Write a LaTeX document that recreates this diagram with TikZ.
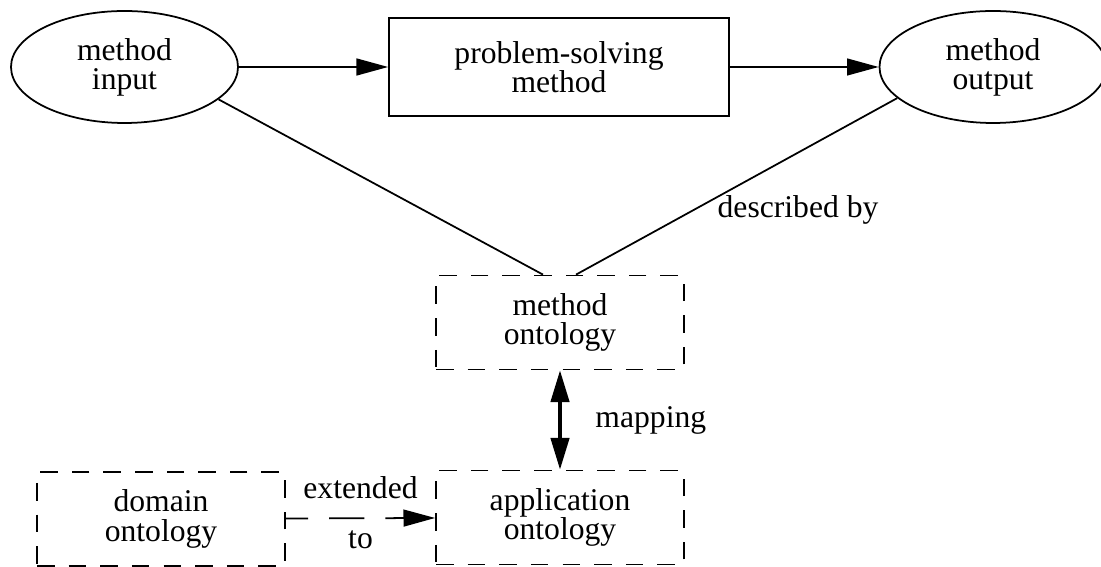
\documentclass[tikz,border=0pt]{standalone}
\usepackage{fontspec}
\setmainfont{Liberation Serif}
\usetikzlibrary{shapes.geometric,arrows.meta}

\begin{document}
\begin{tikzpicture}[
        every node/.style={font=\fontsize{9}{8.3}\selectfont, align=center},
        io/.style={ellipse, draw, line width=0.5pt, inner sep=0pt, minimum width=2.27cm, minimum height=1.12cm},
        psm/.style={rectangle, draw, line width=0.5pt, minimum width=3.4cm, minimum height=0.98cm},
        onto/.style={rectangle, draw, line width=0.5pt, dash pattern=on 5pt off 4pt, minimum width=2.48cm, minimum height=0.94cm},
        flow/.style={line width=0.5pt, -{Triangle[length=9pt, width=4.8pt]}},
        link/.style={line width=0.5pt}
    ]
        \useasboundingbox (0,0) rectangle (11.01,5.66);

        % Method and its input / output
        \node[io] (input) at (1.245,4.99) {method\\input};
        \node[psm] (method) at (5.59,4.99) {problem-solving\\method};
        \node[io] (output) at (9.93,4.99) {method\\output};
        \draw[flow] (input) -- (method);
        \draw[flow] (method) -- (output);

        % Ontologies
        \node[onto] (montology) at (5.60,2.435) {method\\ontology};
        \node[onto] (aontology) at (5.60,0.485) {application\\ontology};
        \node[onto] (dontology) at (1.61,0.47) {domain\\ontology};

        % Relations
        \draw[link] (input.-19) -- ([xshift=-0.17cm]montology.north);
        \draw[link] (output.198) -- ([xshift=0.16cm]montology.north);
        \node (described) at (7.98,3.56) {described by};
        \draw[line width=1pt, {Triangle[length=9pt, width=5.2pt]}-{Triangle[length=9pt, width=5.2pt]}]
            (montology) -- node[right=0.22cm] {mapping} (aontology);
        \draw[flow, dash pattern=on 10pt off 6pt, dash phase=3.7pt] (dontology) -- node[above=2pt] {extended} node[below] {to} (aontology);
    \end{tikzpicture}
\end{document}
